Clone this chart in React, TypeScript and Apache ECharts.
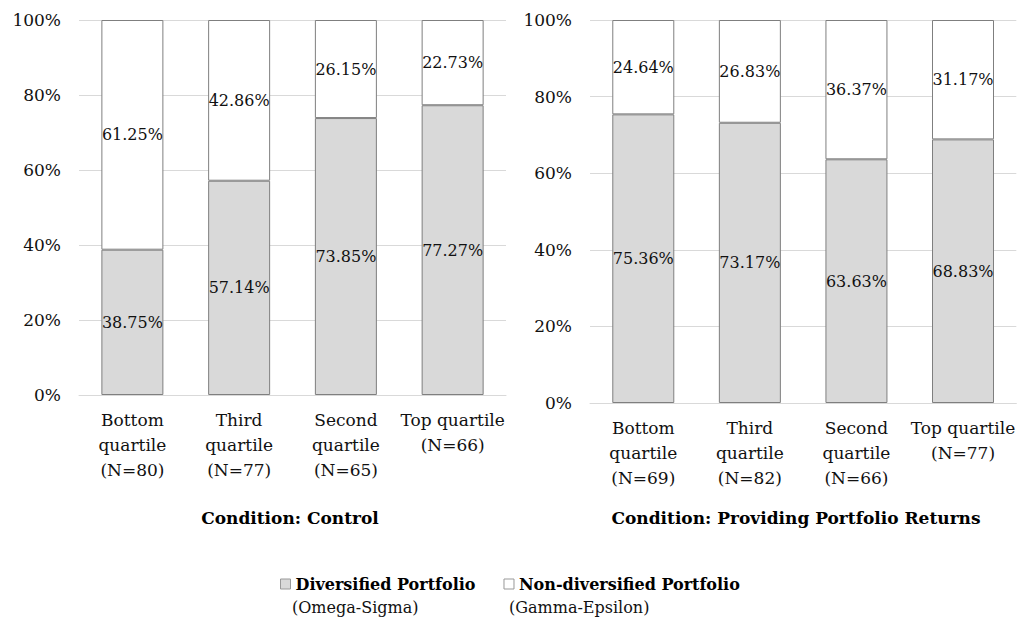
import React, { useEffect, useRef } from "react";
import * as echarts from "echarts";

// Category labels (quartiles with sample sizes)
const controlCategories = ["Bottom\nquartile\n(N=80)", "Third\nquartile\n(N=77)", "Second\nquartile\n(N=65)", "Top quartile\n(N=66)"];
const returnsCategories = ["Bottom\nquartile\n(N=69)", "Third\nquartile\n(N=82)", "Second\nquartile\n(N=66)", "Top quartile\n(N=77)"];

// Shares (%) per quartile
const controlDiversified = [38.75, 57.14, 73.85, 77.27];
const controlNonDiversified = [61.25, 42.86, 26.15, 22.73];
const returnsDiversified = [75.36, 73.17, 63.63, 68.83];
const returnsNonDiversified = [24.64, 26.83, 36.37, 31.17];

const panelTitles = ["Condition: Control", "Condition: Providing Portfolio Returns"];
const seriesNames = ["Diversified Portfolio", "Non-diversified Portfolio"];
const seriesSubtitles = ["(Omega-Sigma)", "(Gamma-Epsilon)"];
const yTicks = [0, 20, 40, 60, 80, 100];

const FONT = "DejaVu Serif";
const TEXT = "#111111";
const GRID = "#d9d9d9";
const BORDER = "#7f7f7f";
const FILL_DIV = "#d9d9d9";
const FILL_NON = "#ffffff";

export default function App() {
  const ref = useRef<HTMLDivElement>(null);

  useEffect(() => {
    document.body.style.margin = "0";
    if (!ref.current) return;
    const chart = echarts.init(ref.current, null, { renderer: "svg" });

    const yAxisBase = (gridIndex: number) => ({
      type: "value",
      gridIndex,
      min: yTicks[0],
      max: yTicks[yTicks.length - 1],
      interval: 20,
      axisLine: { show: false },
      axisTick: { show: false },
      axisLabel: {
        formatter: "{value}%",
        fontFamily: FONT,
        fontSize: 17,
        color: TEXT,
        margin: 18,
      },
      splitLine: { lineStyle: { color: GRID, width: 1 } },
    });

    const xAxisBase = (gridIndex: number, data: string[]) => ({
      type: "category",
      gridIndex,
      data,
      axisLine: { show: true, lineStyle: { color: GRID, width: 1 } },
      axisTick: { show: false },
      axisLabel: {
        interval: 0,
        fontFamily: FONT,
        fontSize: 17,
        lineHeight: 25,
        color: TEXT,
        margin: 12,
      },
    });

    const barLabel = {
      show: true,
      position: "inside",
      fontFamily: FONT,
      fontSize: 16,
      color: TEXT,
      formatter: (p: any) => `${Number(p.value).toFixed(2)}%`,
    };

    const makeSeries = (idx: number, div: number[], non: number[]) => [
      {
        name: seriesNames[0],
        type: "bar",
        stack: "s" + idx,
        xAxisIndex: idx,
        yAxisIndex: idx,
        barWidth: 62,
        data: div,
        itemStyle: { color: FILL_DIV, borderColor: BORDER, borderWidth: 1 },
        label: barLabel,
      },
      {
        name: seriesNames[1],
        type: "bar",
        stack: "s" + idx,
        xAxisIndex: idx,
        yAxisIndex: idx,
        barWidth: 62,
        data: non,
        itemStyle: { color: FILL_NON, borderColor: BORDER, borderWidth: 1 },
        label: barLabel,
      },
    ];

    const textEl = (text: string, x: number, y: number, bold: boolean, align: string, size: number) => ({
      type: "text",
      x,
      y,
      style: {
        text,
        fontFamily: FONT,
        fontSize: size,
        fontWeight: bold ? "bold" : "normal",
        fill: bold ? "#000" : TEXT,
        textAlign: align,
        textVerticalAlign: "middle",
      },
    });

    chart.setOption({
      animation: false,
      backgroundColor: "#ffffff",
      textStyle: { fontFamily: FONT },
      grid: [
        { left: 79, top: 20, width: 427, height: 375 },
        { left: 590, top: 20, width: 428, height: 383 },
      ],
      xAxis: [xAxisBase(0, controlCategories), xAxisBase(1, returnsCategories)],
      yAxis: [yAxisBase(0), yAxisBase(1)],
      legend: {
        data: seriesNames,
        left: 275,
        top: 571,
        icon: "rect",
        itemWidth: 10,
        itemHeight: 10,
        itemGap: 28,
        itemStyle: { borderColor: "#999", borderWidth: 1 },
        textStyle: {
          fontFamily: FONT,
          fontSize: 16,
          fontWeight: "bold",
          color: "#000",
        },
      },
      graphic: [
        textEl(panelTitles[0], 290, 518, true, "center", 17),
        textEl(panelTitles[1], 796, 518, true, "center", 17),
        textEl(seriesSubtitles[0], 292, 607, false, "left", 16),
        textEl(seriesSubtitles[1], 509, 607, false, "left", 16),
      ],
      series: [
        ...makeSeries(0, controlDiversified, controlNonDiversified),
        ...makeSeries(1, returnsDiversified, returnsNonDiversified),
      ],
    });

    return () => chart.dispose();
  }, []);

  return <div ref={ref} style={{ width: 1018, height: 617 }} />;
}
